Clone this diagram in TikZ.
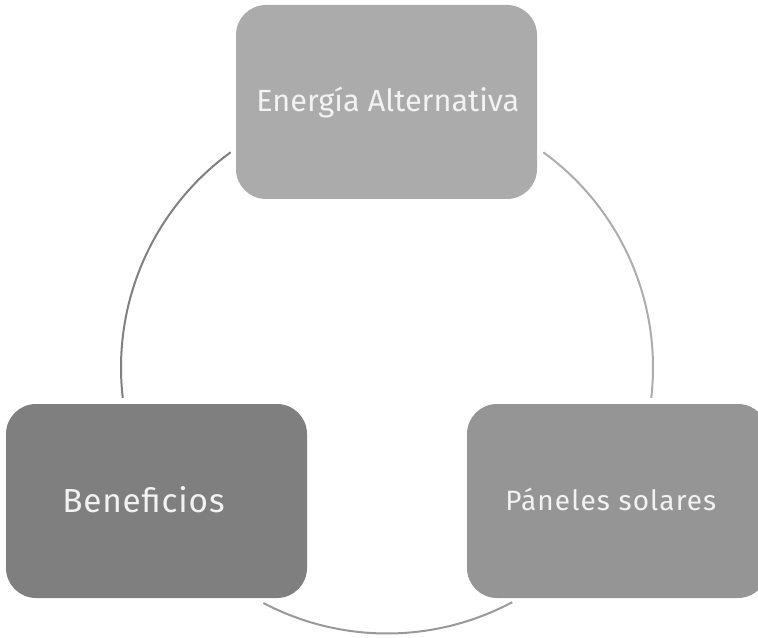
\documentclass[tikz,border=0pt]{standalone}
\usepackage{fontspec}
\setmainfont{Fira Sans}
\usepackage{tikz}
\usetikzlibrary{positioning, calc}

\definecolor{boxtop}{RGB}{171,171,171}
\definecolor{boxleft}{RGB}{127,127,127}
\definecolor{boxright}{RGB}{149,149,149}
\definecolor{arcleftcol}{RGB}{128,128,128}
\definecolor{arcrightcol}{RGB}{172,172,172}
\definecolor{arcbottomcol}{RGB}{153,153,153}
\definecolor{textcol}{RGB}{242,242,242}

\tikzset{
  topicbox/.style={rectangle, rounded corners=22.5pt, minimum width=225.75pt,
    minimum height=145.5pt, inner sep=0pt, draw=none},
  topictext/.style={anchor=base west, inner sep=0pt, text=textcol},
  cyclearc/.style={line width=1.5pt}
}

\begin{document}
\begin{tikzpicture}[x=0.75pt, y=0.75pt]
  \useasboundingbox (0,0) rectangle (758,637);

  % Boxes
  \node[topicbox, fill=boxtop] (energia) at (386.5,535) {};
  \node[topicbox, fill=boxleft] (beneficios) at (156.5,136) {};
  \node[topicbox, fill=boxright] (paneles) at (617.5,136) {};

  % Labels
  \node[topictext, font=\fontsize{23}{27}\selectfont] (tenergia) at (256,525.5) {Energía Alternativa};
  \node[topictext, font=\fontsize{25}{30}\selectfont\addfontfeatures{LetterSpace=2.5}] (tbeneficios) at (62,124.3) {Beneficios};
  \node[topictext, font=\fontsize{21}{25}\selectfont\addfontfeatures{LetterSpace=4}] (tpaneles) at (505,126.3) {Páneles solares};

  % Cycle arcs
  \coordinate (c) at (387,269.5);
  \draw[cyclearc, arcleftcol] ([shift={(c)}]126:266) arc[start angle=126, end angle=186.6, radius=266];
  \draw[cyclearc, arcrightcol] ([shift={(c)}]54:266) arc[start angle=54, end angle=-6.6, radius=266];
  \draw[cyclearc, arcbottomcol] ([shift={(c)}]242.3:266) arc[start angle=242.3, end angle=298.1, radius=266];
\end{tikzpicture}
\end{document}
